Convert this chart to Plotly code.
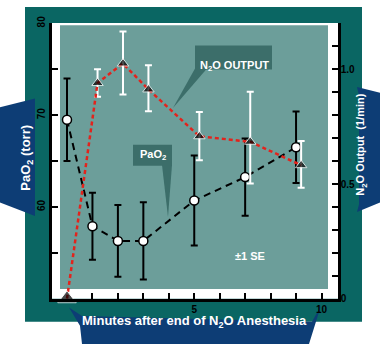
import plotly.graph_objects as go

# ---------------- data ----------------
minutes = [0, 1, 2, 3, 5, 7, 9]
pao2 = [69.5, 57.9, 56.3, 56.3, 60.7, 63.25, 66.5]
pao2_se = [4.5, 3.65, 3.9, 4.2, 4.9, 4.2, 3.9]

n2o_minutes = [0, 1.2, 2.2, 3.2, 5.2, 7.2, 9.2]
n2o_output = [0, 0.94, 1.025, 0.912, 0.708, 0.684, 0.582]
n2o_se_plus = [None, 0.06, 0.14, 0.105, 0.106, 0.218, 0.105]
n2o_se_minus = [None, 0.06, 0.135, 0.095, 0.105, 0.182, 0.098]

x_labels = [5, 10]
x_minor = [1, 2, 3, 4, 6, 7, 8, 9]
y_labels = [60, 70, 80]
y_minor = [55, 65, 75]
y2_labels = [0, 0.5, 1.0]
y2_minor = [0.1, 0.2, 0.3, 0.4, 0.6, 0.7, 0.8, 0.9, 1.1, 1.2]

# ---------------- layout helpers ----------------
W, H = 380, 350
FONT = "Liberation Sans, Arial, sans-serif"
DARK_TEAL = "#0a6663"
INNER_TEAL = "#6c9e9a"
BOX_TEAL = "#3c6e6a"
NAVY = "#0d3d75"


def px(x):
    return x / W


def py(y):
    return 1 - y / H


def poly(points):
    return "M " + " L ".join(f"{px(x):.5f},{py(y):.5f}" for x, y in points) + " Z"


# plot frame in pixels
FX0, FX1, FY0, FY1 = 52, 338, 17, 303
X0PX, XPERMIN = 67, 25.45

fig = go.Figure()

fig.add_trace(go.Scatter(
    x=minutes, y=pao2, yaxis="y", mode="lines+markers",
    line=dict(color="black", width=2, dash="7px,5px"),
    marker=dict(symbol="circle", size=9, color="white",
                line=dict(color="black", width=1.5)),
    error_y=dict(type="data", array=pao2_se, color="black",
                 thickness=2, width=3.5),
    cliponaxis=False, showlegend=False,
))

fig.add_trace(go.Scatter(
    x=n2o_minutes, y=n2o_output, yaxis="y2", mode="lines+markers",
    line=dict(color="#e3231c", width=2.5, dash="4px,3px"),
    marker=dict(symbol="triangle-up", size=[16, 10, 10, 10, 10, 10, 10],
                color="black", line=dict(color="white", width=1)),
    error_y=dict(type="data", symmetric=False, array=n2o_se_plus,
                 arrayminus=n2o_se_minus, color="white",
                 thickness=2, width=3.5),
    cliponaxis=False, showlegend=False,
))

shapes = [
    # outer dark teal panel
    dict(type="rect", xref="paper", yref="paper", layer="below",
         x0=px(25), x1=px(362), y0=py(327), y1=py(0),
         fillcolor=DARK_TEAL, line=dict(width=0)),
    # white frame
    dict(type="rect", xref="paper", yref="paper", layer="below",
         x0=px(FX0), x1=px(FX1), y0=py(FY1), y1=py(FY0 - 0.5),
         fillcolor="white", line=dict(width=0)),
    # inner teal area
    dict(type="rect", xref="paper", yref="paper", layer="below",
         x0=px(60), x1=px(328), y0=py(293), y1=py(19),
         fillcolor=INNER_TEAL, line=dict(width=0)),
    # N2O OUTPUT callout
    dict(type="rect", xref="paper", yref="paper", layer="below",
         x0=px(195), x1=px(272), y0=py(65), y1=py(40),
         fillcolor=BOX_TEAL, line=dict(width=0)),
    dict(type="path", xref="paper", yref="paper", layer="below",
         path=poly([(195, 64), (207, 64), (173, 105)]),
         fillcolor=BOX_TEAL, line=dict(width=0)),
    # PaO2 callout
    dict(type="rect", xref="paper", yref="paper", layer="below",
         x0=px(133), x1=px(172), y0=py(165), y1=py(143),
         fillcolor=BOX_TEAL, line=dict(width=0)),
    dict(type="path", xref="paper", yref="paper", layer="below",
         path=poly([(162, 164), (172, 164), (168, 218)]),
         fillcolor=BOX_TEAL, line=dict(width=0)),
    # navy label ribbons
    dict(type="path", xref="paper", yref="paper", layer="below",
         path=poly([(0, 104), (35, 95), (35, 217), (0, 203)]),
         fillcolor=NAVY, line=dict(width=0)),
    dict(type="path", xref="paper", yref="paper", layer="below",
         path=poly([(357, 83), (380, 89), (380, 203), (357, 213),
                    (359, 205), (359, 92)]),
         fillcolor=NAVY, line=dict(width=0)),
    dict(type="path", xref="paper", yref="paper", layer="below",
         path=poly([(69, 312), (82, 321), (312, 327), (321, 310),
                    (309, 350), (82, 350), (80, 331)]),
         fillcolor=NAVY, line=dict(width=0)),
]

white_bold = dict(family=FONT, color="white", size=13, weight=700)
annotations = [
    dict(text="PaO<sub>2</sub> (torr)", x=px(16), y=py(157), xref="paper",
         yref="paper", showarrow=False, textangle=-90, font=white_bold),
    dict(text="N<sub>2</sub>O Output  (1/min)", x=px(370), y=py(143),
         xref="paper", yref="paper", showarrow=False, textangle=-90,
         font=dict(family=FONT, color="white", size=11, weight=700)),
    dict(text="Minutes after end of N<sub>2</sub>O Anesthesia", x=px(194),
         y=py(338), xref="paper", yref="paper", showarrow=False,
         font=white_bold),
    dict(text="N<sub>2</sub>O OUTPUT", x=px(234), y=py(52), xref="paper",
         yref="paper", showarrow=False,
         font=dict(family=FONT, color="white", size=11, weight=700)),
    dict(text="PaO<sub>2</sub>", x=px(152.5), y=py(154), xref="paper",
         yref="paper", showarrow=False,
         font=dict(family=FONT, color="white", size=11, weight=700)),
    dict(text="±1 SE", x=px(267), y=py(267), xref="paper", yref="paper",
         showarrow=False,
         font=dict(family=FONT, color="white", size=11, weight=700)),
]

tickfont = dict(family=FONT, color="black", size=10, weight=700)
tickstyle = dict(ticks="inside", ticklen=6, tickwidth=1.5, tickcolor="black")
axis_common = dict(showline=True, linecolor="black", linewidth=2.5,
                   showgrid=False, zeroline=False, fixedrange=True,
                   tickfont=tickfont, tickmode="array", **tickstyle)

fig.update_layout(
    width=W, height=H,
    margin=dict(l=0, r=0, t=0, b=0, pad=0),
    paper_bgcolor="white",
    plot_bgcolor="rgba(0,0,0,0)",
    showlegend=False,
    shapes=shapes,
    annotations=annotations,
    xaxis=dict(
        domain=[px(FX0), px(FX1)],
        range=[(FX0 - X0PX) / XPERMIN, (FX1 - X0PX) / XPERMIN],
        tickvals=x_labels, ticktext=[str(v) for v in x_labels],
        minor=dict(tickmode="array", tickvals=x_minor, **tickstyle),
        **axis_common,
    ),
    yaxis=dict(
        domain=[py(FY1), py(FY0)],
        range=[50, 80],
        tickvals=y_labels, ticktext=[str(v) for v in y_labels],
        minor=dict(tickmode="array", tickvals=y_minor, **tickstyle),
        tickangle=-90,
        **axis_common,
    ),
    yaxis2=dict(
        overlaying="y", side="right", anchor="x",
        range=[0, 1.2],
        tickvals=y2_labels, ticktext=["0", "0.5", "1.0"],
        minor=dict(tickmode="array", tickvals=y2_minor, **tickstyle),
        ticklabelstandoff=-2,
        **axis_common,
    ),
)

fig.write_html("out.html")
